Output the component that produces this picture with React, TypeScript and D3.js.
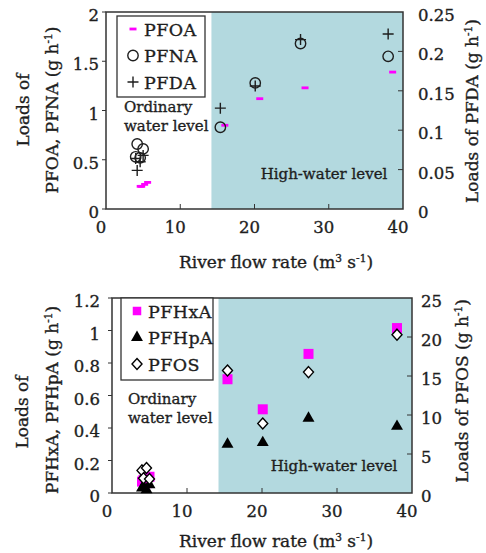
import React, { useRef, useEffect } from "react";
import * as d3 from "d3";

// river flow rate (m3/s) for the 8 samples: 4 at ordinary level, 4 at high water
const flows = [4.0, 4.2, 4.6, 5.0, 15.4, 20.1, 26.2, 38.0];

// upper panel
const pfoa = [0.23, 0.23, 0.25, 0.27, 0.85, 1.12, 1.23, 1.39];
const pfna = [0.53, 0.66, 0.52, 0.61, 0.83, 1.28, 1.68, 1.55];
const pfda = [0.064, 0.049, 0.06, 0.068, 0.128, 0.156, 0.215, 0.222];

// lower panel
const pfhxa = [0.07, 0.08, 0.06, 0.1, 0.7, 0.515, 0.856, 1.015];
const pfhpa = [0.03, 0.04, 0.02, 0.05, 0.3, 0.31, 0.46, 0.41];
const pfos = [2.9, 1.9, 3.2, 1.8, 15.7, 8.9, 15.5, 20.3];

const xTicks = [0, 10, 20, 30, 40];
const topLeftTicks = [0, 0.5, 1, 1.5, 2];
const topRightTicks = [0, 0.05, 0.1, 0.15, 0.2, 0.25];
const bottomLeftTicks = [0, 0.2, 0.4, 0.6, 0.8, 1, 1.2];
const bottomRightTicks = [0, 5, 10, 15, 20, 25];
const highWaterStart = 14.2;

const FONT = "'DejaVu Serif', serif";
const INK = "#1e1e1e";
const MAGENTA = "#ff00ff";
const SHADE = "#b3d9df";

type Part = { t: string; sup?: boolean };

function richText(g: any, parts: Part[], size: number) {
  parts.forEach((p) => {
    g.append("tspan")
      .attr("font-size", p.sup ? size * 0.62 : size)
      .attr("baseline-shift", p.sup ? "super" : null)
      .text(p.t);
  });
}

function drawMarker(g: any, type: string, inPlot: boolean) {
  if (type === "dash") {
    g.append("rect")
      .attr("x", inPlot ? 1 : -3.5)
      .attr("y", -1.4)
      .attr("width", 7)
      .attr("height", 2.8)
      .attr("fill", MAGENTA);
  } else if (type === "circle") {
    g.append("circle").attr("r", 5.2).attr("fill", "none").attr("stroke", INK).attr("stroke-width", 1.4);
  } else if (type === "plus") {
    g.append("path").attr("d", "M-5.5,0H5.5M0,-5.5V5.5").attr("stroke", INK).attr("stroke-width", 1.4);
  } else if (type === "square") {
    const s = inPlot ? 10 : 8.5;
    g.append("rect").attr("x", -s / 2).attr("y", -s / 2).attr("width", s).attr("height", s).attr("fill", MAGENTA);
  } else if (type === "triangle") {
    g.append("path").attr("d", d3.symbol(d3.symbolTriangle, 62)()).attr("fill", "#000");
  } else if (type === "diamond") {
    g.append("path").attr("d", "M0,-5.5L5,0L0,5.5L-5,0Z").attr("fill", "#fff").attr("stroke", "#000").attr("stroke-width", 1.4);
  }
}

function drawPanel(svg: any, p: any) {
  const g = svg.append("g");
  const x = d3.scaleLinear().domain([0, 40]).range([p.left, p.right]);
  const yL = d3.scaleLinear().domain([0, p.leftMax]).range([p.bottom, p.top]);
  const yR = d3.scaleLinear().domain([0, p.rightMax]).range([p.bottom, p.top]);

  // high-water shading
  g.append("rect")
    .attr("x", x(highWaterStart))
    .attr("y", p.top)
    .attr("width", x(40) - x(highWaterStart))
    .attr("height", p.bottom - p.top)
    .attr("fill", SHADE);

  // ticks
  g.selectAll(".xt")
    .data(xTicks.slice(1, -1))
    .enter()
    .append("line")
    .attr("x1", (d: number) => x(d))
    .attr("x2", (d: number) => x(d))
    .attr("y1", p.bottom)
    .attr("y2", p.bottom - 5)
    .attr("stroke", "#333");
  g.selectAll(".ylt")
    .data(p.leftTicks)
    .enter()
    .append("line")
    .attr("x1", p.left - 4)
    .attr("x2", p.left)
    .attr("y1", (d: number) => yL(d))
    .attr("y2", (d: number) => yL(d))
    .attr("stroke", "#333");
  g.selectAll(".yrt")
    .data(p.rightTicks.slice(1, -1))
    .enter()
    .append("line")
    .attr("x1", p.right)
    .attr("x2", p.right - 5)
    .attr("y1", (d: number) => yR(d))
    .attr("y2", (d: number) => yR(d))
    .attr("stroke", "#333");

  // frame
  g.append("rect")
    .attr("x", p.left)
    .attr("y", p.top)
    .attr("width", p.right - p.left)
    .attr("height", p.bottom - p.top)
    .attr("fill", "none")
    .attr("stroke", "#333")
    .attr("stroke-width", 1.5);

  // slightly heavier serif text, like the scanned figure
  const txt = (sel: any) =>
    sel.attr("font-family", FONT).attr("fill", INK).attr("stroke", INK).attr("stroke-width", 0.35);

  // tick labels
  g.selectAll(".xl")
    .data(xTicks)
    .enter()
    .append("text")
    .call(txt)
    .attr("x", (d: number) => x(d) - 5)
    .attr("y", p.bottom + 24)
    .attr("text-anchor", "middle")
    .attr("font-size", 16.5)
    .text((d: number) => d);
  g.selectAll(".yl")
    .data(p.leftTicks)
    .enter()
    .append("text")
    .call(txt)
    .attr("x", p.left - p.leftGap)
    .attr("y", (d: number) => yL(d) + 9)
    .attr("text-anchor", "end")
    .attr("font-size", 16.5)
    .text((d: number) => d);
  g.selectAll(".yr")
    .data(p.rightTicks)
    .enter()
    .append("text")
    .call(txt)
    .attr("x", p.right + p.rightGap)
    .attr("y", (d: number) => yR(d) + 9)
    .attr("font-size", 16.5)
    .text((d: number) => d);

  // axis titles
  const xt = g.append("text").call(txt).attr("x", p.xTitle[0]).attr("y", p.xTitle[1]).attr("text-anchor", "middle");
  richText(xt, [{ t: "River flow rate (m" }, { t: "3", sup: true }, { t: " s" }, { t: "-1", sup: true }, { t: ")" }], 17);

  g.append("text")
    .call(txt)
    .attr("transform", `translate(${p.leftTitle1[0]},${p.leftTitle1[1]}) rotate(-90)`)
    .attr("text-anchor", "middle")
    .attr("font-size", 17)
    .text("Loads of");
  const lt = g
    .append("text")
    .call(txt)
    .attr("transform", `translate(${p.leftTitle2[0]},${p.leftTitle2[1]}) rotate(-90)`)
    .attr("text-anchor", "middle");
  richText(lt, [{ t: p.leftLabel + " (g h" }, { t: "-1", sup: true }, { t: ")" }], 17);
  const rt = g
    .append("text")
    .call(txt)
    .attr("transform", `translate(${p.rightTitle[0]},${p.rightTitle[1]}) rotate(-90)`)
    .attr("text-anchor", "middle");
  richText(rt, [{ t: p.rightLabel + " (g h" }, { t: "-1", sup: true }, { t: ")" }], 17);

  // region notes
  g.append("text").call(txt).attr("x", p.note[0]).attr("y", p.note[1]).attr("font-size", 15).text("Ordinary");
  g.append("text").call(txt).attr("x", p.note[0]).attr("y", p.note[1] + 19).attr("font-size", 15).text("water level");
  g.append("text")
    .call(txt)
    .attr("x", p.highNote[0])
    .attr("y", p.highNote[1])
    .attr("text-anchor", "middle")
    .attr("font-size", 15)
    .text("High-water level");

  // points
  p.series.forEach((s: any) => {
    const y = s.axis === "left" ? yL : yR;
    g.selectAll(null)
      .data(s.values)
      .enter()
      .append("g")
      .attr("transform", (d: number, i: number) => `translate(${x(flows[i])},${y(d)})`)
      .each(function (this: any) {
        drawMarker(d3.select(this), s.marker, true);
      });
  });

  // legend
  const [lx, ly, lw, lh] = p.legend;
  g.append("rect")
    .attr("x", lx)
    .attr("y", ly)
    .attr("width", lw)
    .attr("height", lh)
    .attr("fill", "#fff")
    .attr("stroke", "#333")
    .attr("stroke-width", 1.3);
  p.series.forEach((s: any, i: number) => {
    const cy = ly + 13 + i * 26.5;
    drawMarker(g.append("g").attr("transform", `translate(${lx + 16},${cy})`), s.marker, false);
    g.append("text")
      .call(txt)
      .attr("x", lx + 27)
      .attr("y", cy + 6.5)
      .attr("font-size", 17.5)
      .attr("letter-spacing", 0.4)
      .text(s.name);
  });
}

export default function App() {
  const svgRef = useRef<SVGSVGElement>(null);

  useEffect(() => {
    const svg = d3.select(svgRef.current);
    svg.selectAll("*").remove();

    drawPanel(svg, {
      left: 106,
      right: 403,
      top: 12,
      bottom: 209,
      leftMax: 2,
      rightMax: 0.25,
      leftTicks: topLeftTicks,
      rightTicks: topRightTicks,
      leftGap: 7,
      rightGap: 15,
      xTitle: [276, 268],
      leftTitle1: [29, 110],
      leftTitle2: [58, 110],
      rightTitle: [478, 111],
      leftLabel: "PFOA, PFNA",
      rightLabel: "Loads of PFDA",
      note: [124, 112],
      highNote: [324, 179],
      legend: [117, 16, 88, 81],
      series: [
        { name: "PFOA", values: pfoa, axis: "left", marker: "dash" },
        { name: "PFNA", values: pfna, axis: "left", marker: "circle" },
        { name: "PFDA", values: pfda, axis: "right", marker: "plus" },
      ],
    });

    drawPanel(svg, {
      left: 112,
      right: 412,
      top: 298,
      bottom: 493,
      leftMax: 1.2,
      rightMax: 25,
      leftTicks: bottomLeftTicks,
      rightTicks: bottomRightTicks,
      leftGap: 12,
      rightGap: 9,
      xTitle: [276, 547],
      leftTitle1: [28, 412],
      leftTitle2: [58, 400],
      rightTitle: [468, 391],
      leftLabel: "PFHxA, PFHpA",
      rightLabel: "Loads of PFOS",
      note: [128, 404],
      highNote: [334, 471],
      legend: [121, 298, 92, 82],
      series: [
        { name: "PFHxA", values: pfhxa, axis: "left", marker: "square" },
        { name: "PFHpA", values: pfhpa, axis: "left", marker: "triangle" },
        { name: "PFOS", values: pfos, axis: "right", marker: "diamond" },
      ],
    });
  }, []);

  return (
    <svg
      ref={svgRef}
      width={486}
      height={553}
      style={{ position: "absolute", left: 0, top: 0, background: "#fff" }}
    />
  );
}
